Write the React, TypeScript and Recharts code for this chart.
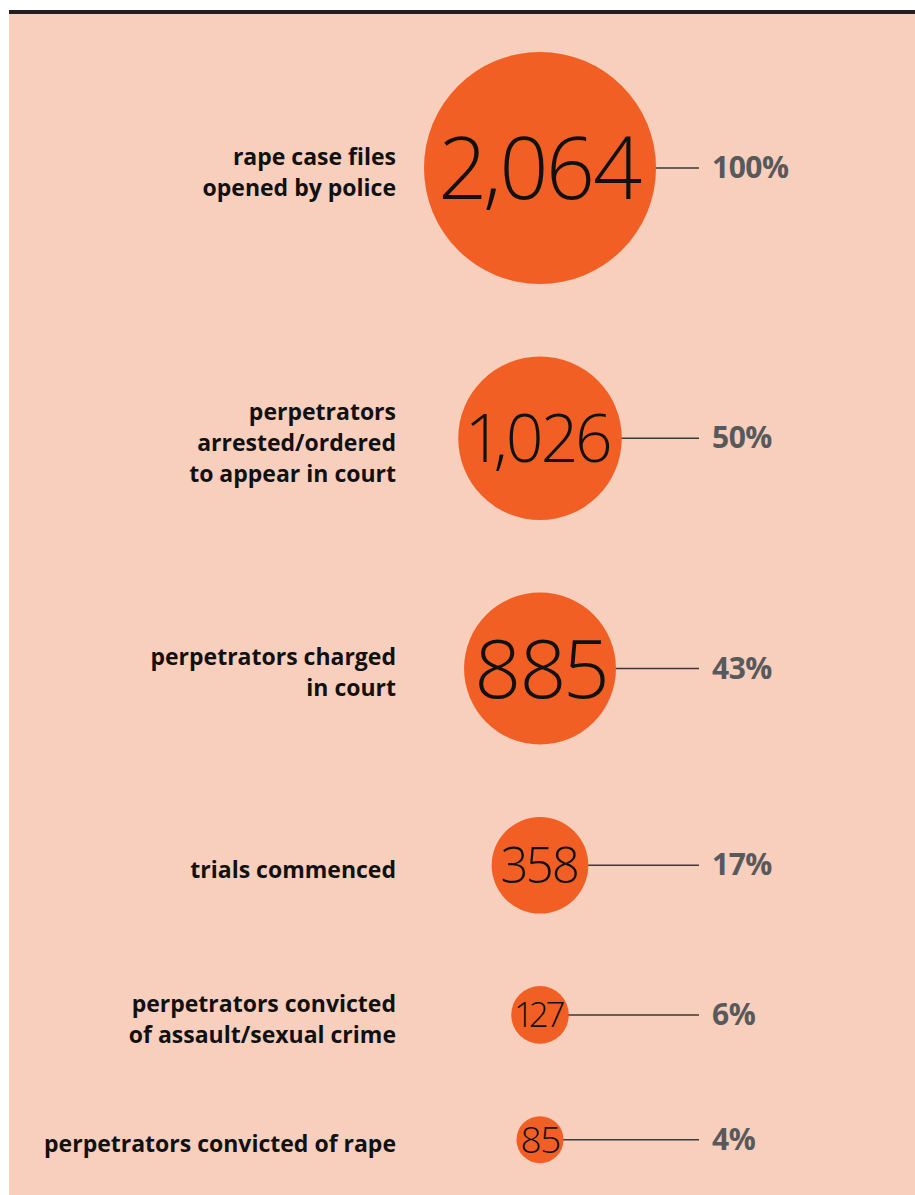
import React from 'react';
import { ScatterChart, Scatter, XAxis, YAxis, ZAxis } from 'recharts';

// ---- data ----
const STAGE_LABELS: string[][] = [
  ['rape case files', 'opened by police'],
  ['perpetrators', 'arrested/ordered', 'to appear in court'],
  ['perpetrators charged', 'in court'],
  ['trials commenced'],
  ['perpetrators convicted', 'of assault/sexual crime'],
  ['perpetrators convicted of rape'],
];
const COUNTS: number[] = [2064, 1026, 885, 358, 127, 85];
const PERCENT_LABELS: string[] = ['100%', '50%', '43%', '17%', '6%', '4%'];

// ---- style / layout constants ----
const W = 915;
const H = 1195;
const R_MAX = 116;
const GAP = 72.5;
const FIRST_CY = 168;
const NUM_FONT_SIZES = [86, 66, 82, 49, 35, 37];
const LABEL_RIGHT_X = 396;
const LINE_END_X = 699;
const PCT_X = 712;
const ORANGE = '#f15f24';
const PEACH = '#f8cebd';
const GREY = '#58595b';
const FONT = '"Open Sans", "Noto Sans", Lato, sans-serif';

const MAX = Math.max(...COUNTS);
const radiusOf = (v: number) => R_MAX * Math.sqrt(v / MAX);

// vertical stacking of circles (derived from data values)
const yPositions: number[] = [];
COUNTS.forEach((v, i) => {
  if (i === 0) yPositions.push(FIRST_CY);
  else yPositions.push(yPositions[i - 1] + radiusOf(COUNTS[i - 1]) + GAP + radiusOf(v));
});

const rows = COUNTS.map((v, i) => ({
  x: 0,
  y: yPositions[i],
  value: v,
  idx: i,
  lines: STAGE_LABELS[i],
  pct: PERCENT_LABELS[i],
}));

const BubbleShape = (props: any) => {
  const { cx, cy, size, payload } = props;
  const r = size ? Math.sqrt(size / Math.PI) : radiusOf(payload.value);
  const fs = NUM_FONT_SIZES[payload.idx];
  const lines: string[] = payload.lines;
  const lh = 31;
  const labelFs = 23;
  return (
    <g>
      <line x1={cx + r - 1} y1={cy} x2={LINE_END_X} y2={cy} stroke="#3a3a3a" strokeWidth={1.5} />
      <circle cx={cx} cy={cy} r={r} fill={ORANGE} />
      <text
        x={cx}
        y={cy + fs * 0.357}
        textAnchor="middle"
        fontFamily={FONT}
        fontWeight={300}
        fontSize={fs}
        fill="#111"
        letterSpacing={-fs * 0.03}
        style={{ fontVariantNumeric: 'proportional-nums', fontFeatureSettings: '"pnum" 1' }}
      >
        {payload.value.toLocaleString('en-US')}
      </text>
      <text
        x={PCT_X}
        y={cy + 10}
        textAnchor="start"
        fontFamily={FONT}
        fontWeight={700}
        fontSize={30}
        fill={GREY}
        letterSpacing={-0.5}
      >
        {payload.pct}
      </text>
      {lines.map((ln, k) => (
        <text
          key={k}
          x={LABEL_RIGHT_X}
          y={cy + 4 + (k - (lines.length - 1) / 2) * lh + labelFs * 0.36}
          textAnchor="end"
          fontFamily={FONT}
          fontWeight={700}
          fontSize={labelFs}
          fill="#111"
        >
          {ln}
        </text>
      ))}
    </g>
  );
};

export default function App() {
  return (
    <div style={{ position: 'absolute', left: 0, top: 0, width: W, height: H, background: '#fff', overflow: 'hidden' }}>
      <div style={{ position: 'absolute', left: 9, top: 10, width: W - 9, height: 4, background: '#231f20' }} />
      <div style={{ position: 'absolute', left: 9, top: 14, width: W - 9, height: H - 14, background: PEACH }} />
      <div style={{ position: 'absolute', left: 0, top: 0 }}>
        <ScatterChart width={W} height={H} margin={{ top: 0, right: 0, bottom: 0, left: 165 }}>
          <XAxis type="number" dataKey="x" domain={[-1, 1]} hide />
          <YAxis type="number" dataKey="y" domain={[0, H]} reversed hide />
          <ZAxis type="number" dataKey="value" domain={[0, MAX]} range={[0, Math.PI * R_MAX * R_MAX]} />
          <Scatter data={rows} shape={BubbleShape} isAnimationActive={false} />
        </ScatterChart>
      </div>
    </div>
  );
}
